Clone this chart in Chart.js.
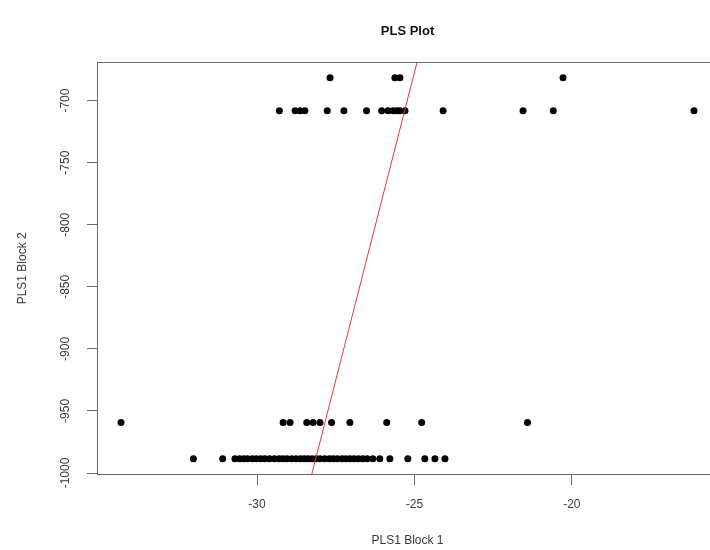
<!DOCTYPE html>
<html>
<head>
<meta charset="utf-8">
<title>PLS Plot</title>
<script src="https://cdn.jsdelivr.net/npm/chart.js@4.4.1/dist/chart.umd.min.js"></script>
<style>
    html, body { margin: 0; padding: 0; background: #fff; overflow: hidden; }
    #wrap { width: 710px; height: 550px; overflow: hidden; }
    canvas { display: block; }
</style>
</head>
<body>
<div id="wrap"><canvas id="plsChart" width="730" height="550"></canvas></div>
<script>
// PLS1 Block 2 sits on four levels; Block 1 values for each level
const block2Levels = [-681.7, -708.1, -959.4, -988.5];
const block1Top = [-27.68, -25.62, -25.46, -20.28];
const block1Upper = [-29.29, -28.79, -28.63, -28.48, -27.77, -27.24, -26.52, -26.04, -25.84,
    -25.68, -25.56, -25.46, -25.30, -24.09, -21.55, -20.59, -16.12];
const block1Lower = [-34.32, -29.17, -28.95, -28.42, -28.22, -28.00, -27.63, -27.05, -25.88,
    -24.77, -21.41];
const block1Bottom = [-32.02, -31.09, -30.70, -30.55, -30.42, -30.30, -30.15, -30.02, -29.88,
    -29.75, -29.60, -29.45, -29.30, -29.18, -29.05, -28.90, -28.76, -28.62, -28.50, -28.38,
    -28.25, -28.12, -28.00, -27.85, -27.70, -27.58, -27.45, -27.30, -27.18, -27.05, -26.92,
    -26.78, -26.64, -26.50, -26.32, -26.10, -25.78, -25.21, -24.67, -24.35, -24.03];

// fitted line (red)
const fitX = [-28.26, -24.92];
const fitY = [-1000.8, -669.4];

// axes
const xTicks = [-30, -25, -20];
const yTicks = [-1000, -950, -900, -850, -800, -750, -700];
const xRange = [-35.05, -15.39];
const yRange = [-1000.8, -669.4];

const fontFamily = '"Liberation Sans", Arial, sans-serif';
const axisColor = '#6a6a6a';
const textColor = '#3a3a3a';

// pair each row of Block 1 values with its Block 2 level
const rows = [block1Top, block1Upper, block1Lower, block1Bottom];
const scores = [];
rows.forEach((row, i) => {
    row.forEach(x => scores.push({ x: x, y: block2Levels[i] }));
});
const fitLine = fitX.map((x, i) => ({ x: x, y: fitY[i] }));

// R style box around the plot region
const plotBox = {
    id: 'plotBox',
    afterDatasetsDraw(chart) {
        const { ctx, chartArea } = chart;
        const l = Math.floor(chartArea.left) - 0.5;
        const t = Math.floor(chartArea.top) + 0.5;
        const r = Math.floor(chartArea.right) + 0.5;
        const b = Math.floor(chartArea.bottom) + 0.5;
        ctx.save();
        ctx.strokeStyle = axisColor;
        ctx.lineWidth = 1;
        ctx.strokeRect(l, t, r - l, b - t);
        ctx.restore();
    }
};

const ctx = document.getElementById('plsChart').getContext('2d');
new Chart(ctx, {
    type: 'scatter',
    data: {
        datasets: [{
            label: 'scores',
            data: scores,
            backgroundColor: '#000',
            borderWidth: 0,
            pointRadius: 3.5,
            pointHoverRadius: 3.5,
            order: 2,
        }, {
            label: 'fit',
            type: 'line',
            data: fitLine,
            borderColor: '#e03a3a',
            borderWidth: 1,
            pointRadius: 0,
            fill: false,
            order: 1,
        }]
    },
    options: {
        responsive: false,
        animation: false,
        devicePixelRatio: 1,
        events: [],
        layout: { padding: { left: 0, top: 0, bottom: 0, right: 13 } },
        plugins: {
            legend: { display: false },
            tooltip: { enabled: false },
            title: {
                display: true,
                text: 'PLS Plot',
                fullSize: false,
                color: '#111',
                font: { family: fontFamily, size: 13, weight: 'bold' },
                padding: { top: 24, bottom: 23 },
            }
        },
        scales: {
            x: {
                type: 'linear',
                min: xRange[0],
                max: xRange[1],
                afterBuildTicks: scale => { scale.ticks = xTicks.map(v => ({ value: v })); },
                afterFit: scale => { scale.height = 76; },
                ticks: {
                    color: textColor,
                    font: { family: fontFamily, size: 12 },
                    padding: 12,
                    maxRotation: 0,
                    callback: v => String(v),
                },
                grid: {
                    drawOnChartArea: false,
                    drawTicks: true,
                    tickLength: 11,
                    color: axisColor,
                },
                border: { display: false },
                title: {
                    display: true,
                    text: 'PLS1 Block 1',
                    color: textColor,
                    font: { family: fontFamily, size: 12 },
                    padding: { top: 0, bottom: 2 },
                }
            },
            y: {
                type: 'linear',
                min: yRange[0],
                max: yRange[1],
                afterBuildTicks: scale => { scale.ticks = yTicks.map(v => ({ value: v })); },
                afterFit: scale => { scale.width = 98; },
                ticks: {
                    color: textColor,
                    font: { family: fontFamily, size: 12 },
                    padding: 6,
                    minRotation: 90,
                    maxRotation: 90,
                    crossAlign: 'center',
                    callback: v => String(v),
                },
                grid: {
                    drawOnChartArea: false,
                    drawTicks: true,
                    tickLength: 11,
                    color: axisColor,
                },
                border: { display: false },
                title: {
                    display: true,
                    text: 'PLS1 Block 2',
                    color: textColor,
                    font: { family: fontFamily, size: 12 },
                    padding: { top: 15, bottom: 0 },
                }
            }
        }
    },
    plugins: [plotBox]
});
</script>
</body>
</html>
